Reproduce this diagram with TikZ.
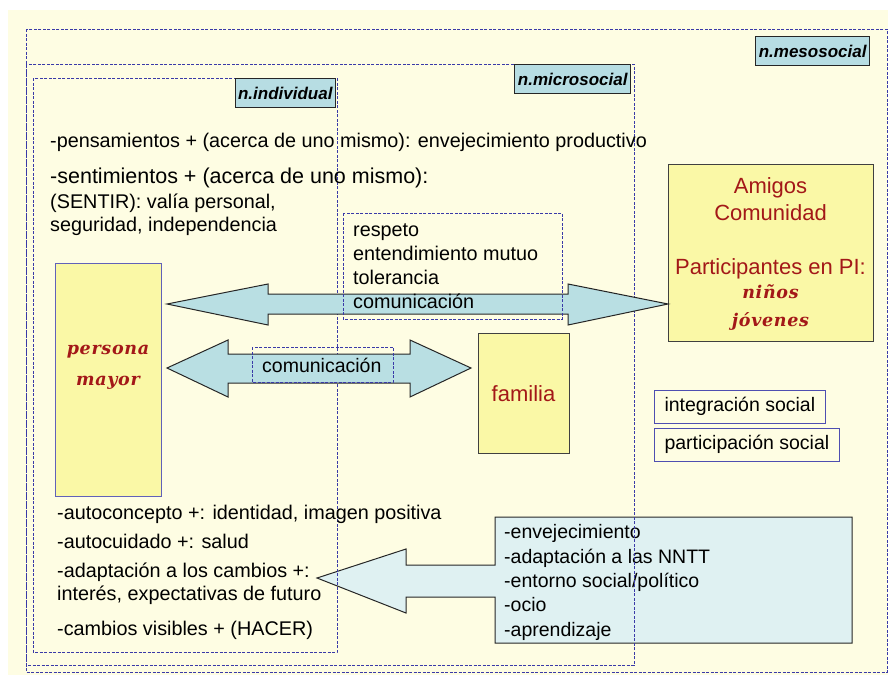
\documentclass[tikz,border=0pt]{standalone}
\usepackage{fontspec}
\setmainfont{Liberation Sans}
\newfontfamily\fancyserif[LetterSpace=4]{DejaVu Serif}
\usetikzlibrary{positioning}

\definecolor{cream}{HTML}{FEFDE3}
\definecolor{dashblue}{HTML}{3A3AA8}
\definecolor{tagblue}{HTML}{B7DDE3}
\definecolor{arrowblue}{HTML}{B9DFE3}
\definecolor{paleblue}{HTML}{DFF1F2}
\definecolor{boxyellow}{HTML}{FAF8A6}
\definecolor{darkred}{HTML}{A31818}

\tikzset{
  lvlbox/.style={draw=dashblue, dash pattern=on 3pt off 1.5pt, line width=0.8pt},
  tagbox/.style={draw=black!85, fill=tagblue, line width=1pt, inner xsep=3pt,
    minimum height=29pt, font=\fontsize{17}{20}\selectfont\bfseries\itshape},
  yellowbox/.style={draw=black!75, fill=boxyellow, line width=1pt},
  framebox/.style={draw=dashblue!90, line width=1pt, inner xsep=10pt, anchor=west,
    minimum height=33pt, font=\fontsize{19.5}{23}\selectfont},
  txt/.style={anchor=base west, inner sep=0pt},
  redtxt/.style={anchor=base, inner sep=0pt, text=darkred, font=\fontsize{22}{26}\selectfont},
  fancytxt/.style={anchor=base, inner sep=0pt, text=darkred,
    font=\fontsize{17.5}{20}\fancyserif\bfseries\itshape},
  blockarrow/.style={draw=black!85, line width=1pt, fill=arrowblue, line join=miter}
}

\begin{document}
\begin{tikzpicture}[x=1pt, y=-1pt, font=\fontsize{19.8}{24}\selectfont]
\useasboundingbox (0,0) rectangle (888,675);
\fill[cream] (8,10) rectangle (888,675);

% influencias del entorno
\draw[draw=black!85, line width=1pt, fill=paleblue, line join=miter]
  (495,517) -- (852,517) -- (852,643) -- (495,643) -- (495,597) -- (406,597)
  -- (406,613) -- (317,578) -- (406,549) -- (406,565) -- (495,565) -- cycle;
\node[txt, align=left, font=\fontsize{19.5}{24.3}\selectfont] (entorno) at (504,636)
  {-envejecimiento\\-adaptación a las NNTT\\-entorno social/político\\-ocio\\-aprendizaje};

% niveles
\draw[lvlbox] (26,29) rectangle (887,672);
\draw[lvlbox] (26,64) rectangle (634,665);
\draw[lvlbox] (33,78) rectangle (337,652);

\node[tagbox, anchor=north east] (meso) at (870,36) {n.mesosocial};
\node[tagbox, anchor=north east] (micro) at (631,64) {n.microsocial};
\node[tagbox, anchor=north east] (indiv) at (336,78) {n.individual};

% nivel individual
\node[txt] (pens) at (50,147) {-pensamientos + (acerca de uno mismo): envejecimiento productivo};
\node[txt, font=\fontsize{21.5}{24}\selectfont] (sent) at (50,183) {-sentimientos + (acerca de uno mismo):};
\node[txt] (sentir) at (50,208) {(SENTIR): valía personal,};
\node[txt] (segur) at (50,231) {seguridad, independencia};

\node[txt] (autoc) at (57,519) {-autoconcepto +: identidad, imagen positiva};
\node[txt] (autocu) at (57,548) {-autocuidado +: salud};
\node[txt, align=left, font=\fontsize{19.8}{23}\selectfont] (adapt) at (57,600) {-adaptación a los cambios +:\\interés, expectativas de futuro};
\node[txt] (hacer) at (57,635) {-cambios visibles + (HACER)};

% personas
\node[yellowbox, draw=dashblue!80, minimum width=106pt, minimum height=233pt] (persona) at (108,379.5) {};
\node[fancytxt] (personal) at (108,354) {persona};
\node[fancytxt] (mayorl) at (108,385) {mayor};

\node[yellowbox, minimum width=91pt, minimum height=120pt] (familia) at (523.5,393) {};
\node[redtxt] (familial) at (523.5,401) {familia};

\node[yellowbox, minimum width=205pt, minimum height=177pt] (amigos) at (770.5,252.5) {};
\node[redtxt] (amigosl) at (770.5,193) {Amigos};
\node[redtxt] (comunidad) at (770.5,220) {Comunidad};
\node[redtxt] (particip) at (770.5,274) {Participantes en PI:};
\node[fancytxt] (ninos) at (770.5,298) {niños};
\node[fancytxt] (jovenes) at (770.5,326) {jóvenes};

% flechas
\draw[blockarrow] (167,304) -- (268,284) -- (268,294) -- (568,294) -- (568,284)
  -- (668,304) -- (568,325) -- (568,314) -- (268,314) -- (268,325) -- cycle;
\draw[blockarrow] (167,368) -- (228,340) -- (228,354) -- (410,354) -- (410,340)
  -- (471,368) -- (410,397) -- (410,383) -- (228,383) -- (228,397) -- cycle;

\draw[lvlbox] (343,213) rectangle (562,319);
\node[txt, align=left, font=\fontsize{19.8}{23.7}\selectfont] (valores) at (353,308)
  {respeto\\entendimiento mutuo\\tolerancia\\comunicación};
\draw[lvlbox] (252,347) rectangle (393,382);
\node[txt, font=\fontsize{19.5}{23}\selectfont] (comun) at (262,372) {comunicación};

% nivel mesosocial
\node[framebox] (integ) at (654,406.5) {integración social};
\node[framebox] (partic) at (654,444.5) {participación social};
\end{tikzpicture}
\end{document}
